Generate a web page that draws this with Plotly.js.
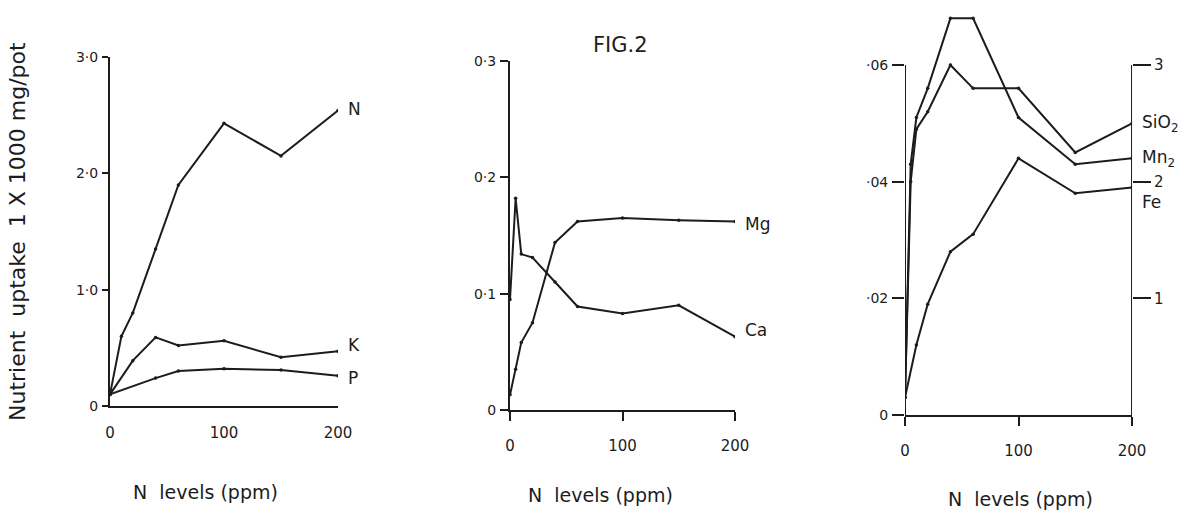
<!DOCTYPE html>
<html><head><meta charset="utf-8">
<script src="https://cdn.plot.ly/plotly-3.0.1.min.js"></script>
<style>html,body{margin:0;padding:0;background:#fff}#c{width:1193px;height:510px}</style>
</head><body><div id="c"></div><script>
// ---- data ----
// Panel 1: N, K, P uptake (x 1000 mg/pot)
const nX = [0, 10, 20, 40, 60, 100, 150, 200];
const nY = [0.10, 0.60, 0.80, 1.35, 1.90, 2.43, 2.15, 2.54];
const kX = [0, 20, 40, 60, 100, 150, 200];
const kY = [0.10, 0.39, 0.59, 0.52, 0.56, 0.42, 0.47];
const pX = [0, 40, 60, 100, 150, 200];
const pY = [0.10, 0.24, 0.30, 0.32, 0.31, 0.26];
// Panel 2: Mg, Ca
const mgX = [0, 5, 10, 20, 40, 60, 100, 150, 200];
const mgY = [0.013, 0.035, 0.058, 0.075, 0.144, 0.162, 0.165, 0.163, 0.162];
const caX = [0, 5, 10, 20, 40, 60, 100, 150, 200];
const caY = [0.095, 0.182, 0.134, 0.131, 0.110, 0.089, 0.083, 0.090, 0.063];
// Panel 3: SiO2 (right axis, 0-3), Mn2 and Fe (left axis)
const siX = [0, 5, 10, 20, 40, 60, 100, 150, 200];
const siY = [0.15, 2.0, 2.45, 2.6, 3.0, 2.8, 2.8, 2.25, 2.5];
const mnX = [0, 5, 10, 20, 40, 60, 100, 150, 200];
const mnY = [0.003, 0.043, 0.051, 0.056, 0.068, 0.068, 0.051, 0.043, 0.044];
const feX = [0, 10, 20, 40, 60, 100, 150, 200];
const feY = [0.003, 0.012, 0.019, 0.028, 0.031, 0.044, 0.038, 0.039];
// tick labels
const xTicks = [0, 100, 200];
const xTickText = ['0', '100', '200'];
const y1Ticks = [0, 1, 2, 3];
const y1Text = ['0', '1·0', '2·0', '3·0'];
const y2Ticks = [0, 0.1, 0.2, 0.3];
const y2Text = ['0', '0·1', '0·2', '0·3'];
const y3Ticks = [0, 0.02, 0.04, 0.06];
const y3Text = ['0', '·02', '·04', '·06'];
const y3RightTicks = [1, 2, 3];
const y3RightText = ['1', '2', '3'];
const seriesLabels = ['N', 'K', 'P', 'Mg', 'Ca', 'SiO<sub>2</sub>', 'Mn<sub>2</sub>', 'Fe'];

const INK = '#1c1c1c';
const FONT = 'DejaVu Sans, Arial, sans-serif';

function tr(x, y, xa, ya, name) {
  return {x: x, y: y, xaxis: xa, yaxis: ya, name: name, type: 'scatter', mode: 'lines+markers',
    line: {color: INK, width: 2}, marker: {color: INK, size: 3.5}, showlegend: false, hoverinfo: 'x+y'};
}
const data = [
  tr(nX, nY, 'x', 'y', 'N'), tr(kX, kY, 'x', 'y', 'K'), tr(pX, pY, 'x', 'y', 'P'),
  tr(mgX, mgY, 'x2', 'y2', 'Mg'), tr(caX, caY, 'x2', 'y2', 'Ca'),
  tr(siX, siY, 'x3', 'y6', 'SiO2'), tr(mnX, mnY, 'x3', 'y3', 'Mn2'), tr(feX, feY, 'x3', 'y3', 'Fe')
];

function xax(dom, anchor, ticklen) {
  return {domain: dom, anchor: anchor, range: [0, 200], showgrid: false, zeroline: false,
    showline: true, linecolor: INK, linewidth: 2, tickvals: xTicks, ticktext: xTickText,
    ticks: ticklen ? 'outside' : '', ticklen: ticklen, tickcolor: INK, tickwidth: 2,
    ticklabelstandoff: 12, tickfont: {family: FONT, size: 15, color: INK}, fixedrange: true};
}
function yax(dom, anchor, range, tv, tt, ticklen, showline) {
  return {domain: dom, anchor: anchor, range: range, showgrid: false, zeroline: false,
    showline: showline, linecolor: INK, linewidth: 2, tickvals: tv, ticktext: tt,
    ticks: 'outside', ticklen: ticklen, tickcolor: INK, tickwidth: 2, ticklabelstandoff: 1,
    tickfont: {family: FONT, size: 14, color: INK}, fixedrange: true};
}
function rax(overlay, anchor, range) {
  return {overlaying: overlay, anchor: anchor, side: 'right', range: range, showgrid: false,
    zeroline: false, showline: true, linecolor: INK, linewidth: 2, showticklabels: false, ticks: '', fixedrange: true};
}

const y3Range = [0, 0.07];
const layout = {
  width: 1193, height: 510, margin: {l: 0, r: 0, t: 0, b: 0},
  paper_bgcolor: '#ffffff', plot_bgcolor: 'rgba(0,0,0,0)', showlegend: false,
  font: {family: FONT, color: INK},
  xaxis: xax([0.0922, 0.2833], 'y', 0),
  yaxis: yax([0.2039, 0.8882], 'x', [0, 3], y1Ticks, y1Text, 6, true),
  yaxis4: rax('y', 'x', [0, 3]),
  xaxis2: xax([0.4275, 0.6161], 'y2', 9),
  yaxis2: yax([0.1961, 0.8804], 'x2', [0, 0.3], y2Ticks, y2Text, 8, true),
  yaxis5: rax('y2', 'x2', [0, 0.3]),
  xaxis3: xax([0.7586, 0.9489], 'y3', 9),
  yaxis3: yax([0.1863, 0.9869], 'x3', y3Range, y3Ticks, y3Text, 12, false),
  yaxis6: {overlaying: 'y3', anchor: 'x3', side: 'right', range: [0, 3 * y3Range[1] / 0.06],
    showgrid: false, zeroline: false, showline: false, tickvals: y3RightTicks, ticktext: y3RightText,
    ticks: 'outside', ticklen: 18, tickwidth: 2, tickcolor: INK,
    tickfont: {family: FONT, size: 15, color: INK}, fixedrange: true},
  shapes: [
    {type: 'line', xref: 'x3', yref: 'y3', x0: 0, x1: 0, y0: 0, y1: y3Ticks[3], line: {color: INK, width: 2}},
    {type: 'line', xref: 'x3', yref: 'y3', x0: 200, x1: 200, y0: 0, y1: y3Ticks[3], line: {color: INK, width: 2}}
  ],
  annotations: []
};

const A = layout.annotations;
function lab(text, x, y, xr, yr, yshift) {
  A.push({text: text, x: x, y: y, xref: xr, yref: yr, xanchor: 'left', yanchor: 'middle',
    xshift: 8, yshift: yshift || 0, showarrow: false, font: {family: FONT, size: 17, color: INK}});
}
lab(seriesLabels[0], nX[nX.length - 1], nY[nY.length - 1], 'x', 'y', 2);
lab(seriesLabels[1], kX[kX.length - 1], kY[kY.length - 1], 'x', 'y', 6);
lab(seriesLabels[2], pX[pX.length - 1], pY[pY.length - 1], 'x', 'y', -2);
lab(seriesLabels[3], mgX[mgX.length - 1], mgY[mgY.length - 1], 'x2', 'y2', -2);
lab(seriesLabels[4], caX[caX.length - 1], caY[caY.length - 1], 'x2', 'y2', 7);
lab(seriesLabels[5], siX[siX.length - 1], siY[siY.length - 1], 'x3', 'y6', 0);
lab(seriesLabels[6], mnX[mnX.length - 1], mnY[mnY.length - 1], 'x3', 'y3', 0);
lab(seriesLabels[7], feX[feX.length - 1], feY[feY.length - 1], 'x3', 'y3', -14);

// titles
A.push({text: 'FIG.2', x: 620 / 1193, y: 1 - 45 / 510, xref: 'paper', yref: 'paper', showarrow: false,
  xanchor: 'center', yanchor: 'middle', font: {family: FONT, size: 21, color: INK}});
[[205, 492], [600, 495], [1020, 499]].forEach(function (p) {
  A.push({text: 'N  levels (ppm)', x: p[0] / 1193, y: 1 - p[1] / 510, xref: 'paper', yref: 'paper',
    showarrow: false, xanchor: 'center', yanchor: 'middle', font: {family: FONT, size: 19, color: INK}});
});
A.push({text: 'Nutrient  uptake  1 X 1000 mg/pot', x: 18 / 1193, y: 1 - 232 / 510, xref: 'paper', yref: 'paper',
  showarrow: false, textangle: -90, xanchor: 'center', yanchor: 'middle',
  font: {family: FONT, size: 22, color: INK}});

Plotly.newPlot('c', data, layout, {staticPlot: true, displayModeBar: false});
</script></body></html>
